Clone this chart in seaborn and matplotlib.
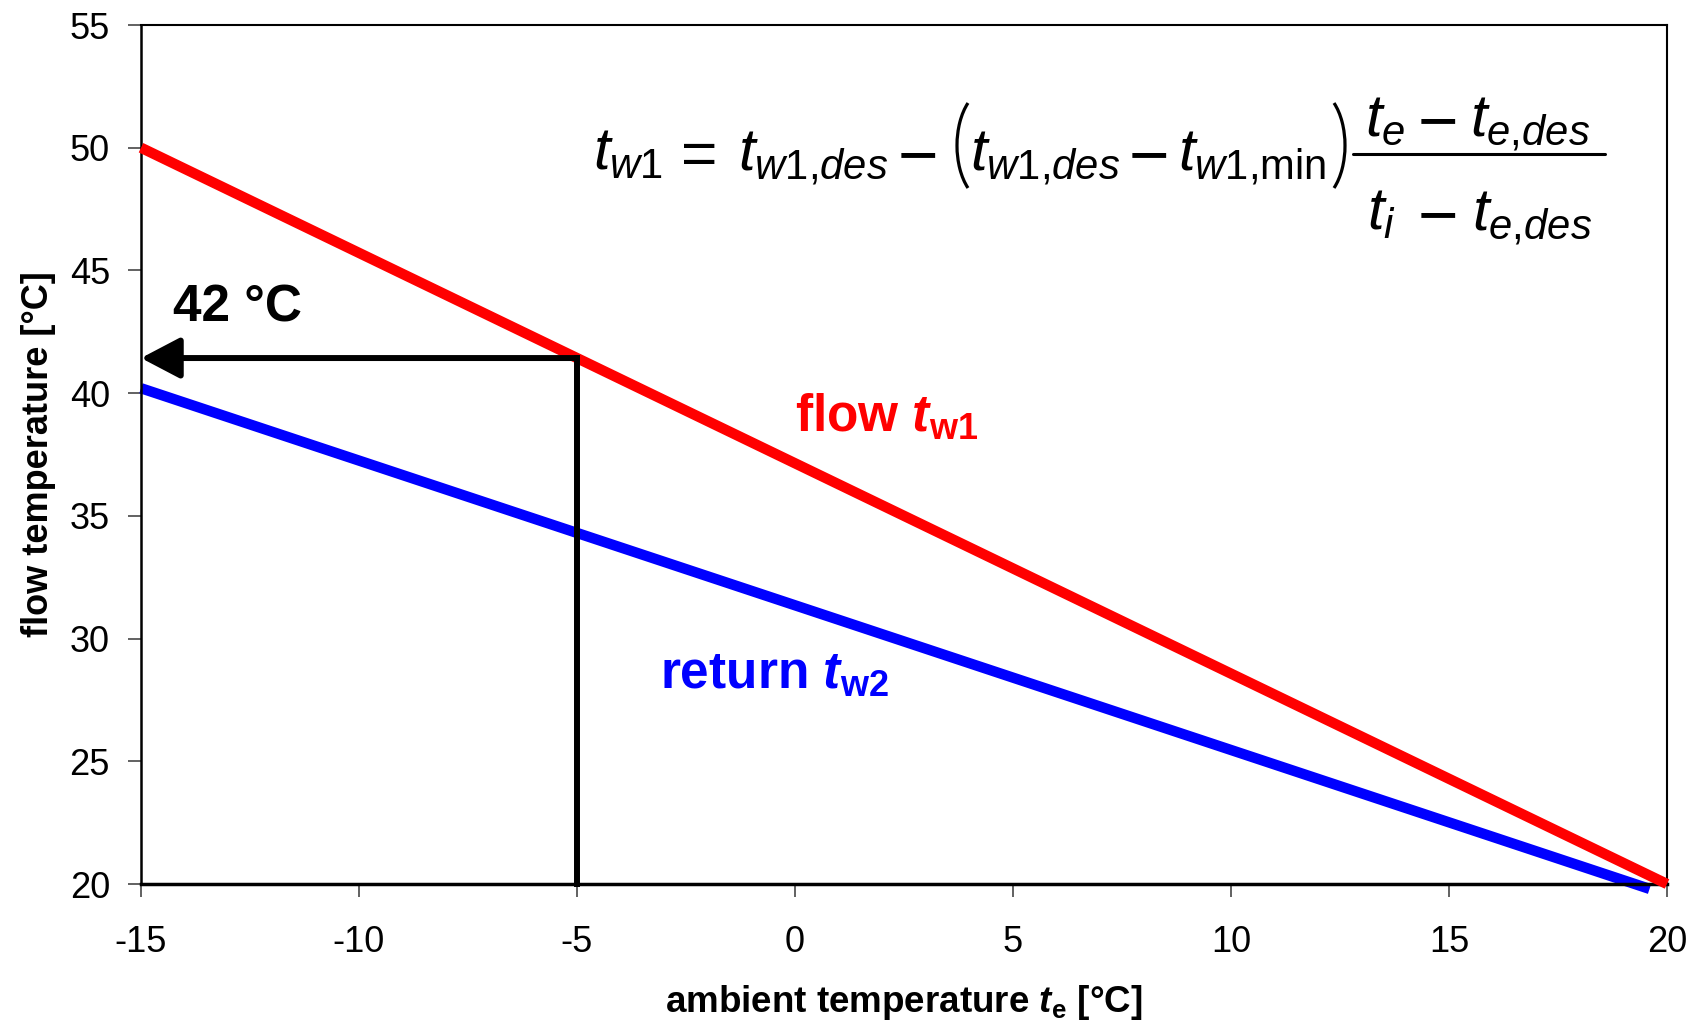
import matplotlib
matplotlib.use('Agg')
import matplotlib.pyplot as plt
import seaborn as sns
import pandas as pd
from matplotlib.patches import Arc
from matplotlib.lines import Line2D
from matplotlib.transforms import IdentityTransform

# ---- data ----
ambient_temp = [-15, 20]
flow_temp = [50, 20]
return_ambient = [-15, 19.6]
return_temp = [40.2, 19.8]
design_ambient = -5
design_flow = 41.43
design_label = "42 °C"
x_ticks = [-15, -10, -5, 0, 5, 10, 15, 20]
y_ticks = [20, 25, 30, 35, 40, 45, 50, 55]

sns.set_theme(style='ticks')
REG = ['Liberation Sans', 'DejaVu Sans']
plt.rcParams.update({
    'font.family': REG,
    'text.color': 'black',
    'axes.labelcolor': 'black',
    'xtick.color': 'black',
    'ytick.color': 'black',
    'axes.unicode_minus': False,
    'mathtext.fontset': 'custom',
    'mathtext.rm': 'Liberation Sans',
    'mathtext.it': 'Liberation Sans:italic',
    'mathtext.bf': 'Liberation Sans:bold',
    'mathtext.bfit': 'Liberation Sans:italic:bold',
})

W, H = 1698, 1027
fig = plt.figure(figsize=(W / 100, H / 100), dpi=100)
ax = fig.add_axes([141 / W, 1 - 884 / H, 1526 / W, 859 / H])
ax.set_facecolor('white')

flow_df = pd.DataFrame({'ambient': ambient_temp, 'temp': flow_temp})
ret_df = pd.DataFrame({'ambient': return_ambient, 'temp': return_temp})

sns.lineplot(data=flow_df, x='ambient', y='temp', color='#FF0000', lw=7.5,
             solid_capstyle='butt', clip_on=False, ax=ax, zorder=3)
sns.lineplot(data=ret_df, x='ambient', y='temp', color='#0000FF', lw=7.5,
             solid_capstyle='butt', clip_on=False, ax=ax, zorder=2)

# design point: vertical line and arrow to the axis
ax.plot([design_ambient, design_ambient], [20, design_flow], color='black',
        lw=4.3, solid_capstyle='projecting', zorder=4, clip_on=False)
ax.annotate('', xy=(-15, design_flow), xytext=(design_ambient, design_flow),
            arrowprops=dict(arrowstyle='-|>,head_length=0.8,head_width=0.42',
                            lw=4.3, color='black', mutation_scale=30,
                            shrinkA=0, shrinkB=0),
            zorder=5)
ax.text(-14.27, 42.9, design_label, fontsize=37, fontweight='bold',
        ha='left', va='baseline')

ax.text(0.0, 38.45, r'flow $\mathbfit{t}_{\mathbf{w1}}$', color='#FF0000',
        fontsize=37, fontweight='bold', ha='left', va='baseline')
ax.text(-3.1, 27.98, r'return $\mathbfit{t}_{\mathbf{w2}}$', color='#0000FF',
        fontsize=37, fontweight='bold', ha='left', va='baseline')

# ---- formula, composed from pieces (pixel positions from the top-left) ----
FS = 43
def ftext(x, y, s, ha='left', size=FS):
    fig.text(x / W, 1 - y / H, s, fontsize=size, ha=ha, va='baseline',
             color='black')

def fop(xc, yaxis, s, size):
    # operator sign centred on the math axis height `yaxis`
    ftext(xc, yaxis + 0.33 * size * 100 / 72, s, ha='center', size=size)

ftext(593, 170, r'$t_{w1}$')
fop(699.5, 154, '=', 45)
ftext(738, 170, r'$t_{w1{,}des}$')
fop(918, 154, '\u2212', 50)
ftext(970, 170, r'$t_{w1{,}des}$')
fop(1149, 154, '\u2212', 50)
ftext(1178, 170, r'$t_{w1{,}\mathrm{min}}$')
ftext(1365, 136, r'$t_{e}$')
fop(1438, 120, '\u2212', 50)
ftext(1470, 136, r'$t_{e{,}des}$')
ftext(1367, 230, r'$t_{i}$')
fop(1438, 214, '\u2212', 50)
ftext(1472, 230, r'$t_{e{,}des}$')
fig.add_artist(Line2D([1353 / W, 1605 / W], [1 - 154 / H, 1 - 154 / H],
                      lw=2.2, color='black', transform=fig.transFigure))
# large parentheses
fig.add_artist(Arc((957 + 30.8, H - 145.5), 2 * 30.8, 2 * 55.5,
                   theta1=115, theta2=245, lw=2.3, color='black',
                   transform=IdentityTransform()))
fig.add_artist(Arc((1345 - 30.8, H - 145.5), 2 * 30.8, 2 * 55.5,
                   theta1=-65, theta2=65, lw=2.3, color='black',
                   transform=IdentityTransform()))

ax.set_xlim(-15, 20)
ax.set_ylim(20, 55)
ax.set_xticks(x_ticks)
ax.set_yticks(y_ticks)
ax.set_xticklabels([str(t) for t in x_ticks])
ax.set_yticklabels([str(t) for t in y_ticks])
ax.tick_params(axis='both', direction='out', length=9.4, width=1.3,
               color='#555555', labelsize=26, labelcolor='black')
ax.tick_params(axis='y', pad=13)
ax.tick_params(axis='x', pad=20)

for s in ['top', 'right']:
    ax.spines[s].set_color('black')
    ax.spines[s].set_linewidth(1.5)
ax.spines['left'].set_color('black')
ax.spines['left'].set_linewidth(1.8)
ax.spines['bottom'].set_color('black')
ax.spines['bottom'].set_linewidth(2.5)

ax.set_xlabel(r'ambient temperature $\mathbfit{t}_{\mathbf{e}}$ [°C]',
              fontsize=26.5, fontweight='bold', labelpad=17)
ax.set_ylabel('flow temperature [°C]', fontsize=26, fontweight='bold',
              labelpad=10)

fig.savefig('out.png', dpi=100, facecolor='white')
